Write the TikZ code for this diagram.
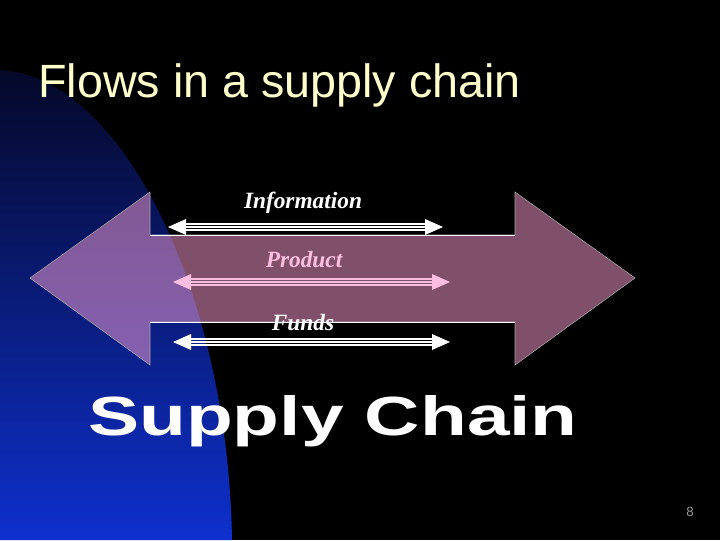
\documentclass[tikz,border=0pt]{standalone}
\usepackage{fontspec}
\setmainfont{Liberation Serif}
\newfontfamily\arial{Liberation Sans}
\definecolor{cream}{RGB}{255,255,204}
\definecolor{mauve}{RGB}{255,160,212}
\definecolor{pinkline}{RGB}{255,190,225}
\definecolor{navytop}{RGB}{5,8,40}
\definecolor{bluebot}{RGB}{14,48,205}
\begin{document}
\begin{tikzpicture}[x=0.75pt,y=-0.75pt,
  lbl/.style={font=\bfseries\itshape\fontsize{17.5}{19}\selectfont}]
\fill[black] (0,0) rectangle (720,540);
\useasboundingbox (0,0) rectangle (720,540);
\shade[top color=navytop,bottom color=bluebot] (0,70) .. controls (120,75) and (228,290) .. (232,540) -- (0,540) -- cycle;
\node[anchor=base west,text=cream,font=\arial\fontsize{35}{38}\selectfont,inner sep=0] (title) at (38,97) {Flows in a supply chain};
% big double arrow
\fill[mauve,opacity=0.5] (30,278) -- (150,192) -- (150,235) -- (515,235) -- (515,192) -- (635,278) -- (515,365) -- (515,322) -- (150,322) -- (150,365) -- cycle;
\draw[gray!70,line width=0.4pt] (30,278) -- (150,192) -- (150,235) -- (515,235) -- (515,192) -- (635,278) -- (515,365) -- (515,322) -- (150,322) -- (150,365) -- cycle;
\draw[white,line width=0.6pt] (150,235) -- (515,235) (150,322) -- (515,322);
% small arrows
\foreach \y/\xa/\xb/\c in {227/168/443/white, 282/173/450/pinkline, 342/173/450/white}{
  \fill[\c] (\xa,\y) -- (\xa+18,\y-8) -- (\xa+18,\y+8) -- cycle;
  \fill[\c] (\xb,\y) -- (\xb-18,\y-8) -- (\xb-18,\y+8) -- cycle;
  \foreach \d in {-3,0,3}{\draw[\c,line width=0.9pt] (\xa+16,\y+\d) -- (\xb-16,\y+\d);}
}
\node[lbl,text=white] (info) at (303,203) {Information};
\node[lbl,text=pinkline] (prod) at (304,260) {Product};
\node[lbl,text=white] (funds) at (303,323) {Funds};
\node[text=white,inner sep=0,font=\arial\bfseries] (sc) at (333,421) {\resizebox{367pt}{30pt}{\textbf{Supply Chain}}};
\node[text=gray!80,font=\arial\fontsize{10}{12}\selectfont] (pg) at (690,512) {8};
\end{tikzpicture}
\end{document}
